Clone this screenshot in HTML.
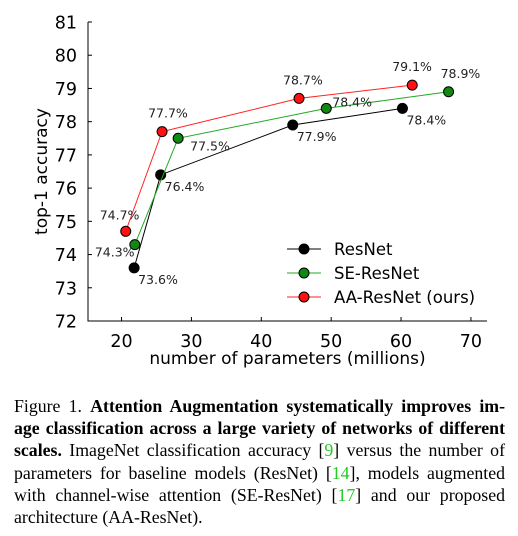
<!DOCTYPE html>
<html><head><meta charset="utf-8"><style>
html,body{margin:0;padding:0;background:#fff;width:518px;height:536px;overflow:hidden}
svg text{font-family:"DejaVu Sans",sans-serif}
#cap{position:absolute;left:14px;top:395px;width:491px;font-family:"Liberation Serif",serif;font-size:17.8px;line-height:22.2px;color:#000}
#cap div{text-align:justify;text-align-last:justify;white-space:nowrap}
#cap div.last{text-align-last:left}
.g{color:#22cc22}
</style></head><body>
<svg id="chart" width="518" height="390" style="position:absolute;left:0;top:0"></svg>
<div id="cap">
<div>Figure 1. <b>Attention Augmentation systematically improves im-</b></div>
<div><b>age classification across a large variety of networks of different</b></div>
<div><b>scales.</b> ImageNet classification accuracy [<span class="g">9</span>] versus the number of</div>
<div>parameters for baseline models (ResNet) [<span class="g">14</span>], models augmented</div>
<div>with channel-wise attention (SE-ResNet) [<span class="g">17</span>] and our proposed</div>
<div class="last">architecture (AA-ResNet).</div>
</div>
<script>
const xTicks=[20,30,40,50,60,70];
const yTicks=[72,73,74,75,76,77,78,79,80,81];
const resX=[21.8,25.6,44.5,60.2];
const resY=[73.6,76.4,77.9,78.4];
const seX=[21.9,28.1,49.3,66.8];
const seY=[74.3,77.5,78.4,78.9];
const aaX=[20.6,25.8,45.4,61.6];
const aaY=[74.7,77.7,78.7,79.1];
const seriesNames=["ResNet","SE-ResNet","AA-ResNet (ours)"];
const offs={
 res:[[4,16],[4,16],[4,16],[4,16]],
 se:[[-40,12],[12,12],[6,-2],[-8,-14]],
 aa:[[-26,-12],[-14,-14],[-16,-14],[-20,-14]]
};
const NS="http://www.w3.org/2000/svg";
const svg=document.getElementById('chart');
const L=88,R=487,T=22,B=321,xmin=15.2,xmax=72.3;
const sx=v=>L+(v-xmin)/(xmax-xmin)*(R-L);
const sy=v=>B-(v-72)/9*(B-T);
function mk(tag,a,parent){const e=document.createElementNS(NS,tag);for(const k in a)e.setAttribute(k,a[k]);(parent||svg).appendChild(e);return e;}
const ax=mk('path',{d:`M${L},${T} V${B} H${R}`,fill:'none',stroke:'#000','stroke-width':1});


yTicks.forEach(v=>{
 const t=mk('text',{x:L-11,y:sy(v)+6.5,'text-anchor':'end','font-size':17.5});t.textContent=v;
 
 
 mk('line',{x1:L,x2:L+4,y1:sy(v),y2:sy(v),stroke:'#000'});
});
xTicks.forEach(v=>{
 const t=mk('text',{x:sx(v),y:B+26,'text-anchor':'middle','font-size':17.5});t.textContent=v;
 
 
 mk('line',{x1:sx(v),x2:sx(v),y1:B,y2:B-4,stroke:'#000'});
});
const xt=mk('text',{x:(L+R)/2,y:364,'text-anchor':'middle','font-size':17});xt.textContent='number of parameters (millions)';


const yt=mk('text',{x:0,y:0,'text-anchor':'middle','font-size':17,transform:`translate(47,${(T+B)/2}) rotate(-90)`});yt.textContent='top-1 accuracy';


function series(xs,ys,col,line,name,off){
 const g=mk('g',{});
 
 
 mk('polyline',{points:xs.map((x,i)=>sx(x)+','+sy(ys[i])).join(' '),fill:'none',stroke:line,'stroke-width':1},g);
 xs.forEach((x,i)=>{
  const c=mk('circle',{cx:sx(x),cy:sy(ys[i]),r:5,fill:col,stroke:'#000','stroke-width':1},g);
  
  
  const t=mk('text',{x:sx(x)+off[i][0],y:sy(ys[i])+off[i][1],'font-size':12.5,fill:'#222'},g);
  t.textContent=ys[i].toFixed(1)+'%';
  
  
 });
}
series(resX,resY,'#000','#000','resnet',offs.res);
series(seX,seY,'#118811','#22aa22','se-resnet',offs.se);
series(aaX,aaY,'#ff1111','#ff2222','aa-resnet',offs.aa);
const cols=[['#000','#000'],['#118811','#22aa22'],['#ff1111','#ff2222']];
seriesNames.forEach((n,i)=>{
 const y=249+i*24;
 const g=mk('g',{});
 
 
 mk('line',{x1:287,x2:321,y1:y,y2:y,stroke:cols[i][1]},g);
 mk('circle',{cx:304,cy:y,r:5,fill:cols[i][0],stroke:'#000'},g);
 const t=mk('text',{x:334,y:y+6,'font-size':16.5},g);t.textContent=n;
});
</script>
</body></html>
